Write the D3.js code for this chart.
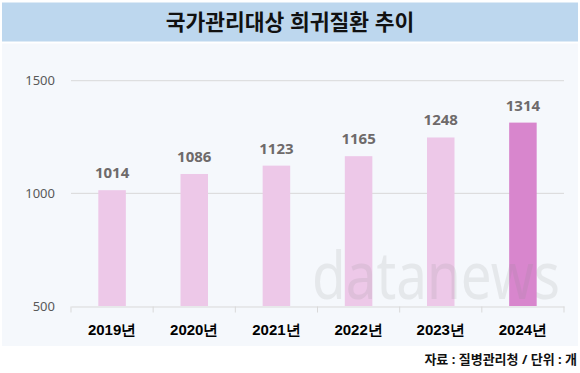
<!DOCTYPE html>
<html><head><meta charset="utf-8">
<script src="https://cdn.jsdelivr.net/npm/d3@7"></script>
<style>
html,body{margin:0;padding:0;background:#fff;}
svg{display:block;font-family:"Noto Sans","Noto Sans CJK KR",sans-serif;}
</style></head>
<body>
<svg id="chart" width="580" height="373"></svg>
<script>
const title = "국가관리대상 희귀질환 추이";
const source = "자료 : 질병관리청 / 단위 : 개";
const years = ["2019년","2020년","2021년","2022년","2023년","2024년"];
const values = [1014,1086,1123,1165,1248,1314];
const yTicks = [500,1000,1500];
const barColors = ["#EDC8E8","#EDC8E8","#EDC8E8","#EDC8E8","#EDC8E8","#D886CD"];

const svg = d3.select("#chart");
// title band
svg.append("rect").attr("x",2).attr("y",2.5).attr("width",576).attr("height",39).attr("fill","#BDD7EE");
svg.append("text").attr("x",290).attr("y",30).attr("text-anchor","middle")
  .attr("font-size",21.5).attr("font-weight","bold").attr("fill","#111").text(title);
// plot background
svg.append("rect").attr("x",2).attr("y",43.5).attr("width",576).attr("height",302.5).attr("fill","#F5F8FC");

const x = d3.scaleBand().domain(years).range([71,564]).paddingInner(0.665).paddingOuter(0.3325);
const y = d3.scaleLinear().domain([500,1500]).range([306,80.7]);

// gridlines
svg.append("g").selectAll("line").data(yTicks.filter(d=>d>500)).join("line")
  .attr("x1",71).attr("x2",564).attr("y1",d=>y(d)).attr("y2",d=>y(d))
  .attr("stroke","#D9D9D9").attr("stroke-width",1);

// y axis labels
const ya = svg.append("g").attr("transform","translate(56,0)")
  .call(d3.axisLeft(y).tickValues(yTicks).tickSize(0).tickPadding(1).tickFormat(d3.format("d")));
ya.select(".domain").remove();
ya.selectAll("text").attr("font-size",13).attr("fill","#595959").attr("font-family","'Noto Sans',sans-serif");

// bars
svg.append("g").selectAll("rect").data(values).join("rect")
  .attr("x",(d,i)=>x(years[i])).attr("width",x.bandwidth())
  .attr("y",d=>y(d)).attr("height",d=>y(500)-y(d))
  .attr("fill",(d,i)=>barColors[i]);

// watermark (single faint text)
svg.append("text").attr("x",312).attr("y",299).attr("font-size",66)
  .attr("textLength",248).attr("lengthAdjust","spacingAndGlyphs")
  .attr("font-family","'Noto Sans',sans-serif").attr("fill","#8a8a8a").attr("opacity",0.14)
  .text("datanews");

// value labels
svg.append("g").selectAll("text").data(values).join("text")
  .attr("x",(d,i)=>x(years[i])+x.bandwidth()/2).attr("y",d=>y(d)-12)
  .attr("text-anchor","middle").attr("font-size",15).attr("font-weight","bold")
  .attr("fill","#6E6A6A").text(d=>d);

// x axis
const xa = svg.append("g").attr("transform","translate(0,306.5)")
  .call(d3.axisBottom(x).tickSize(0).tickPadding(18));
xa.select(".domain").attr("stroke","#D9D9D9");
xa.selectAll("text").attr("font-size",15).attr("font-weight","bold").attr("fill","#000");
// boundary ticks
const bounds = years.map(d=>x(d)-x.step()*x.paddingInner()/2);
bounds.push(564);
xa.selectAll(".bt").data(bounds).join("line").attr("class","bt")
  .attr("x1",d=>d).attr("x2",d=>d).attr("y1",0).attr("y2",6).attr("stroke","#D9D9D9");

// source
svg.append("text").attr("x",577).attr("y",364).attr("text-anchor","end")
  .attr("font-size",13).attr("font-weight","bold").attr("fill","#111").text(source);
</script>
</body></html>
